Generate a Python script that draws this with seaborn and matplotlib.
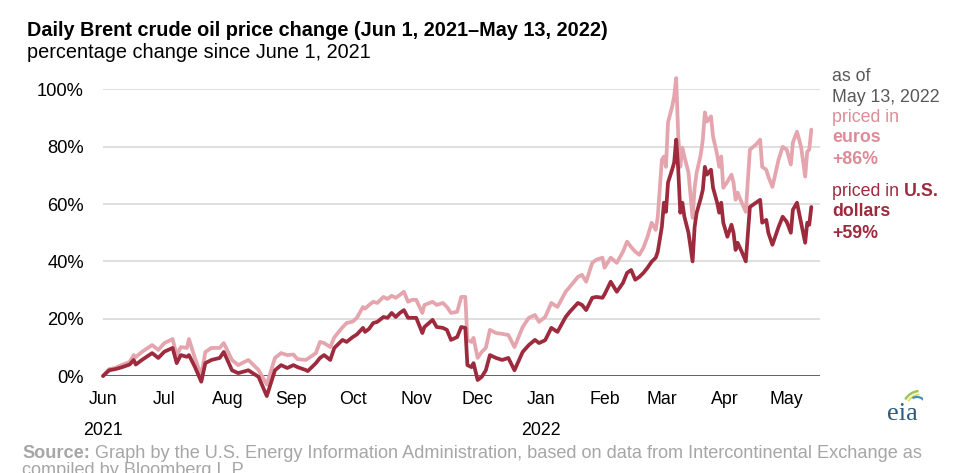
import numpy as np
import pandas as pd
import matplotlib
matplotlib.use("Agg")
import matplotlib.pyplot as plt
import matplotlib.transforms as mtransforms
from matplotlib.patches import Arc
import seaborn as sns

# ---------------- data ----------------
start_date = "2021-06-01"
days_since_jun1 = [
    0, 3, 6, 9, 13, 15, 16, 19, 24, 27, 30, 34, 36, 38, 41, 42, 45, 48, 50, 53,
    57, 59, 63, 66, 71, 76, 80, 84, 87, 90, 93, 95, 99, 100, 104, 106, 108, 111, 113, 117,
    119, 122, 124, 127, 128, 130, 132, 134, 137, 139, 141, 143, 145, 147, 149, 151, 153, 156, 157, 161,
    163, 166, 168, 170, 173, 175, 177, 178, 180, 181, 183, 185, 187, 189, 192, 195, 198, 201, 205, 208,
    211, 213, 216, 219, 222, 226, 228, 232, 234, 236, 239, 241, 244, 245, 248, 251, 254, 256, 258, 260,
    262, 264, 266, 268, 270, 271, 273, 274, 275, 276, 278, 279, 280, 281, 282, 283, 284, 286, 288, 289,
    290, 292, 293, 294, 295, 297, 298, 300, 301, 302, 303, 305, 307, 308, 309, 310, 312, 314, 316, 319,
    321, 322, 324, 325, 327, 330, 332, 334, 336, 337, 339, 341, 343, 344, 345, 346,
]
usd_change = [
    0.0, 2.0, 2.4, 3.0, 4.0, 5.6, 4.0, 5.6, 8.0, 6.3, 8.5, 9.8, 4.5, 7.3, 6.7, 7.3, 3.0, -2.0, 4.5, 5.6,
    6.3, 8.4, 2.0, 1.0, 2.0, -0.3, -7.0, 2.0, 3.8, 2.8, 3.8, 3.1, 2.1, 1.7, 4.5, 6.3, 7.3, 5.6, 9.8, 12.6,
    11.9, 13.6, 14.5, 16.8, 15.4, 16.5, 18.5, 18.9, 20.6, 20.3, 22.0, 20.6, 22.0, 23.0, 20.3, 20.3, 20.3, 15.0, 17.1, 19.6,
    17.1, 16.8, 16.1, 12.6, 13.6, 17.1, 16.8, 3.8, 3.1, 4.5, -1.4, -0.3, 2.0, 7.3, 6.3, 5.6, 6.3, 2.0, 8.4, 10.8,
    12.6, 11.5, 12.5, 16.8, 15.4, 20.6, 22.4, 25.5, 24.8, 23.0, 27.3, 27.6, 27.3, 28.5, 32.9, 29.4, 32.5, 36.0, 37.0, 33.6,
    34.6, 36.0, 37.8, 39.9, 41.3, 43.4, 52.1, 60.5, 57.3, 67.5, 72.0, 74.5, 82.5, 72.0, 57.0, 60.5, 55.6, 50.0, 40.0, 52.0,
    57.0, 62.0, 65.0, 73.0, 70.3, 72.0, 65.7, 60.5, 57.0, 60.5, 53.5, 48.6, 52.8, 50.0, 44.0, 46.5, 43.4, 40.0, 59.0, 60.5,
    61.5, 53.5, 54.5, 50.0, 45.8, 52.0, 55.6, 53.8, 50.0, 58.0, 60.5, 53.5, 46.5, 53.5, 52.8, 59.0,
]
eur_change = [
    0.0, 2.4, 2.8, 3.8, 4.9, 7.3, 6.6, 8.4, 10.8, 9.1, 11.5, 12.9, 7.3, 10.1, 9.8, 12.9, 6.0, 0.3, 8.4, 9.8,
    9.8, 11.5, 5.6, 3.8, 5.6, 2.1, -3.0, 6.3, 8.0, 7.3, 7.5, 5.9, 5.6, 6.0, 8.0, 11.9, 11.5, 10.1, 13.5, 17.0,
    18.5, 19.0, 20.3, 24.1, 23.5, 24.8, 25.9, 25.5, 27.6, 26.9, 28.0, 27.3, 28.3, 29.4, 25.9, 26.6, 26.6, 22.0, 24.8, 25.9,
    24.8, 25.5, 24.1, 22.0, 22.4, 27.6, 27.6, 12.6, 11.9, 13.3, 6.3, 8.4, 9.8, 16.1, 15.0, 14.7, 14.3, 10.1, 17.1, 20.3,
    21.3, 18.9, 20.6, 25.5, 24.1, 29.4, 31.1, 34.6, 35.3, 32.9, 39.5, 40.6, 41.3, 37.8, 41.3, 39.5, 43.4, 46.9, 45.0, 43.4,
    42.3, 44.8, 48.6, 53.5, 51.0, 55.6, 75.5, 76.6, 73.0, 88.5, 94.0, 97.6, 104.0, 83.6, 73.0, 79.7, 76.6, 71.0, 55.2, 65.7,
    71.0, 77.3, 82.5, 92.0, 88.8, 90.6, 83.6, 77.3, 73.0, 76.6, 65.7, 67.8, 70.3, 67.5, 61.5, 64.0, 60.5, 57.3, 79.0, 80.8,
    82.5, 73.0, 72.0, 69.6, 66.0, 75.5, 80.0, 79.0, 73.8, 81.5, 85.3, 80.0, 69.6, 78.3, 79.0, 86.0,
]
series_names = ["euros", "U.S. dollars"]
month_starts = ["2021-06-01", "2021-07-01", "2021-08-01", "2021-09-01", "2021-10-01", "2021-11-01",
                "2021-12-01", "2022-01-01", "2022-02-01", "2022-03-01", "2022-04-01", "2022-05-01"]
month_labels = ["Jun", "Jul", "Aug", "Sep", "Oct", "Nov", "Dec", "Jan", "Feb", "Mar", "Apr", "May"]
year_labels = {"2021-06-01": "2021", "2022-01-01": "2022"}
y_ticks = [0, 20, 40, 60, 80, 100]
y_tick_labels = ["0%", "20%", "40%", "60%", "80%", "100%"]

title = "Daily Brent crude oil price change (Jun 1, 2021\u2013May 13, 2022)"
subtitle = "percentage change since June 1, 2021"
source_bold = "Source:"
source_rest = (" Graph by the U.S. Energy Information Administration, based on data from Intercontinental Exchange as\n"
               "compiled by Bloomberg L.P.")

# ---------------- styling ----------------
DARK = "#9e2a3d"
PINK = "#e5a5ae"
PINK_TXT = "#dc8c98"
GRID = "#d9d9d9"
AXIS = "#555555"
SRC = "#a6a6a6"

sns.set_style("white")
plt.rcParams["font.family"] = ["Liberation Sans", "DejaVu Sans"]
FS = 12.8
FS_TITLE = 14.3
FS_SRC = 13.1

start = pd.Timestamp(start_date)
dates = start + pd.to_timedelta(days_since_jun1, unit="D")
df = pd.DataFrame({"date": dates, "euros": eur_change, "U.S. dollars": usd_change})
long = df.melt(id_vars="date", var_name="series", value_name="pct")

fig = plt.figure(figsize=(9.6, 4.73), dpi=100)
ax = fig.add_axes([103 / 960, 1 - 376 / 473, (819.5 - 103) / 960, (376 - 89.5) / 473])

sns.lineplot(data=long, x="date", y="pct", hue="series", hue_order=series_names,
             palette={"euros": PINK, "U.S. dollars": DARK}, linewidth=2.7,
             legend=False, ax=ax, zorder=3)
for ln in ax.lines:
    ln.set_clip_on(False)
    ln.set_solid_joinstyle("round")

ax.set_xlim(start, start + pd.Timedelta(days=350))
ax.set_ylim(0, 100)

for s in ax.spines.values():
    s.set_visible(False)
for yv in y_ticks[1:]:
    ax.axhline(yv, color=GRID, lw=1.2, zorder=1)
ax.axhline(0, color=AXIS, lw=1.3, zorder=2)

ax.set_xticks(pd.to_datetime(month_starts))
ax.set_xticklabels(month_labels)
ax.set_yticks(y_ticks)
ax.set_yticklabels(y_tick_labels)
ax.tick_params(axis="x", direction="out", length=6, width=1.1, color=AXIS,
               labelsize=FS, labelcolor="black", pad=5)
ax.tick_params(axis="y", length=0, labelsize=13.2, labelcolor="black", pad=13.7)
ax.set_xlabel("")
ax.set_ylabel("")

trans = mtransforms.blended_transform_factory(ax.transData, ax.transAxes)
for d, lab in year_labels.items():
    ax.text(pd.Timestamp(d), -54 / 286.5, lab, transform=trans, ha="center", va="center",
            fontsize=FS, color="black")

# titles
fig.text(27 / 960, 1 - 36 / 473, title, fontsize=FS_TITLE, fontweight="bold", ha="left",
         va="baseline", color="black")
fig.text(27 / 960, 1 - 58 / 473, subtitle, fontsize=FS_TITLE, ha="left", va="baseline", color="black")

# right-hand annotations
xa = 832 / 960
def ftxt(y, s, color, bold=False):
    return fig.text(xa, 1 - y / 473, s, fontsize=FS, color=color, ha="left", va="center",
                    fontweight="bold" if bold else "normal")
ftxt(76, "as of", "#595959")
ftxt(97, "May 13, 2022", "#595959")
ftxt(117, "priced in", PINK_TXT)
ftxt(138, "euros", PINK_TXT, True)
ftxt(159, "+86%", PINK_TXT, True)
t = ftxt(192, "priced in ", DARK)
fig.canvas.draw()
bb = t.get_window_extent()
fig.text(bb.x1 / 960, 1 - 192 / 473, "U.S.", fontsize=FS, color=DARK, ha="left", va="center",
         fontweight="bold")
ftxt(212, "dollars", DARK, True)
ftxt(233, "+59%", DARK, True)

# source
ts = fig.text(22 / 960, 1 - 453 / 473, source_bold, fontsize=FS_SRC, fontweight="bold", color=SRC,
              ha="left", va="center")
fig.canvas.draw()
bb = ts.get_window_extent()
fig.text(bb.x1 / 960, 1 - 453 / 473, source_rest.split("\n")[0], fontsize=FS_SRC, color=SRC,
         ha="left", va="center")
fig.text(22 / 960, 1 - 470 / 473, source_rest.split("\n")[1], fontsize=FS_SRC, color=SRC,
         ha="left", va="center")

# eia logo
fig.text(902 / 960, 1 - 414 / 473, "eia", fontsize=19, family="Liberation Serif",
         color="#2d5b7d", ha="center", va="center")
lax = fig.add_axes([893 / 960, 1 - 408 / 473, 30 / 960, 24 / 473])
lax.set_xlim(0, 30)
lax.set_ylim(0, 24)
lax.axis("off")
lax.add_patch(Arc((27, 0), 34, 34, theta1=95, theta2=150, color="#9cc65a", lw=1.8))
lax.add_patch(Arc((27, 0), 27, 27, theta1=92, theta2=150, color="#e8d84a", lw=1.3))
lax.add_patch(Arc((24, 2), 18, 18, theta1=15, theta2=120, color="#3f8fc4", lw=1.6))

fig.savefig("out.png", dpi=100)
